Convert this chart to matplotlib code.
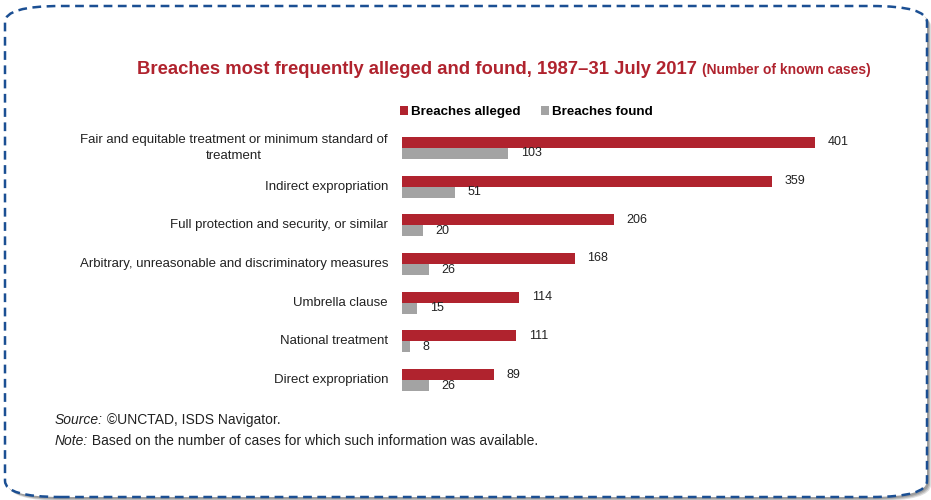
import matplotlib
matplotlib.use("Agg")
import matplotlib.pyplot as plt
from matplotlib.patches import FancyBboxPatch, Patch
from matplotlib import font_manager

categories = [
    "Fair and equitable treatment or minimum standard of\ntreatment",
    "Indirect expropriation",
    "Full protection and security, or similar",
    "Arbitrary, unreasonable and discriminatory measures",
    "Umbrella clause",
    "National treatment",
    "Direct expropriation",
]
alleged = [401, 359, 206, 168, 114, 111, 89]
found = [103, 51, 20, 26, 15, 8, 26]
series_names = ["Breaches alleged", "Breaches found"]

title_main = "Breaches most frequently alleged and found, 1987\u201331 July 2017"
title_sub = "(Number of known cases)"
source_lines = [("Source:", " \u00a9UNCTAD, ISDS Navigator."),
                ("Note:", " Based on the number of cases for which such information was available.")]

RED = "#b0232e"
GREY = "#a3a3a3"
TXT = "#222222"
BORDER = "#1b4f93"

names = {f.name for f in font_manager.fontManager.ttflist}
FONT = "Liberation Sans Narrow" if "Liberation Sans Narrow" in names else "Liberation Sans"
plt.rcParams["font.family"] = [FONT, "DejaVu Sans"]

W, H = 931, 500
fig = plt.figure(figsize=(W / 100, H / 100), dpi=100)
fig.patch.set_facecolor("white")

# rounded dashed frame with a soft shadow
r = 30
for k, a in [(4, 0.25), (3, 0.35), (2, 0.45)]:
    fig.patches.append(FancyBboxPatch(
        ((5 + k) / W, (3 - k) / H), 922 / W, 491 / H,
        boxstyle=f"round,pad=0,rounding_size={r / H}",
        mutation_aspect=H / W, transform=fig.transFigure,
        facecolor="#7a7a7a", edgecolor="none", alpha=a, zorder=0))
fig.patches.append(FancyBboxPatch(
    (5 / W, 3 / H), 922 / W, 491 / H,
    boxstyle=f"round,pad=0,rounding_size={r / H}",
    mutation_aspect=H / W, transform=fig.transFigure,
    facecolor="white", edgecolor=BORDER, linewidth=1.8,
    linestyle=(0, (3.5, 2.2)), zorder=1))

# plotting area: x=0 at 402px, 1.03 px per case; 38.7 px per category
x0, ppu = 402, 1.03
xmax = 450
top_px, bot_px = 128.6, 399.4
ax = fig.add_axes([x0 / W, 1 - bot_px / H, xmax * ppu / W, (bot_px - top_px) / H])
ax.set_xlim(0, xmax)
ax.set_ylim(len(categories) - 0.5, -0.5)
ax.axis("off")
ax.set_zorder(3)

bh = 0.285
ys = list(range(len(categories)))
ax.barh([y - bh / 2 for y in ys], alleged, height=bh, color=RED)
ax.barh([y + bh / 2 for y in ys], found, height=bh, color=GREY)

for y, a, f in zip(ys, alleged, found):
    ax.annotate(str(a), (a, y - bh / 2), xytext=(9, 0), textcoords="offset points",
                va="center", ha="left", fontsize=9, color=TXT)
    ax.annotate(str(f), (f, y + bh / 2), xytext=(9, 0), textcoords="offset points",
                va="center", ha="left", fontsize=9, color=TXT)

for y, c in zip(ys, categories):
    ax.annotate(c, (0, y), xytext=(-10, 0), textcoords="offset points",
                va="center", ha="right", multialignment="center",
                linespacing=1.4, fontsize=9.5, color=TXT, annotation_clip=False)

# title
ty = 1 - 70 / H
tm = fig.text(137 / W, ty, title_main, fontsize=13.3, fontweight="bold",
              color=RED, ha="left", va="center")
fig.canvas.draw()
bb = tm.get_window_extent()
fig.text((bb.x1 + 5) / W, ty, title_sub, fontsize=10, fontweight="bold",
         color=RED, ha="left", va="center")

# legend
handles = [Patch(facecolor=RED, edgecolor="none"), Patch(facecolor=GREY, edgecolor="none")]
fig.legend(handles, series_names, loc="center left", bbox_to_anchor=(400 / W, 1 - 112 / H),
           ncol=2, frameon=False, handlelength=0.6, handleheight=0.6, handletextpad=0.25,
           columnspacing=1.5, borderaxespad=0, borderpad=0,
           prop={"family": [FONT, "DejaVu Sans"], "weight": "bold", "size": 9.6})

# source and note
for i, (lab, rest) in enumerate(source_lines):
    yy = 1 - (420 + 21 * i) / H
    tl = fig.text(55 / W, yy, lab, fontsize=10, style="italic", color=TXT,
                  ha="left", va="center")
    fig.canvas.draw()
    b = tl.get_window_extent()
    fig.text(b.x1 / W, yy, rest, fontsize=10, color=TXT, ha="left", va="center")

fig.savefig("out.png", dpi=100, facecolor="white")
